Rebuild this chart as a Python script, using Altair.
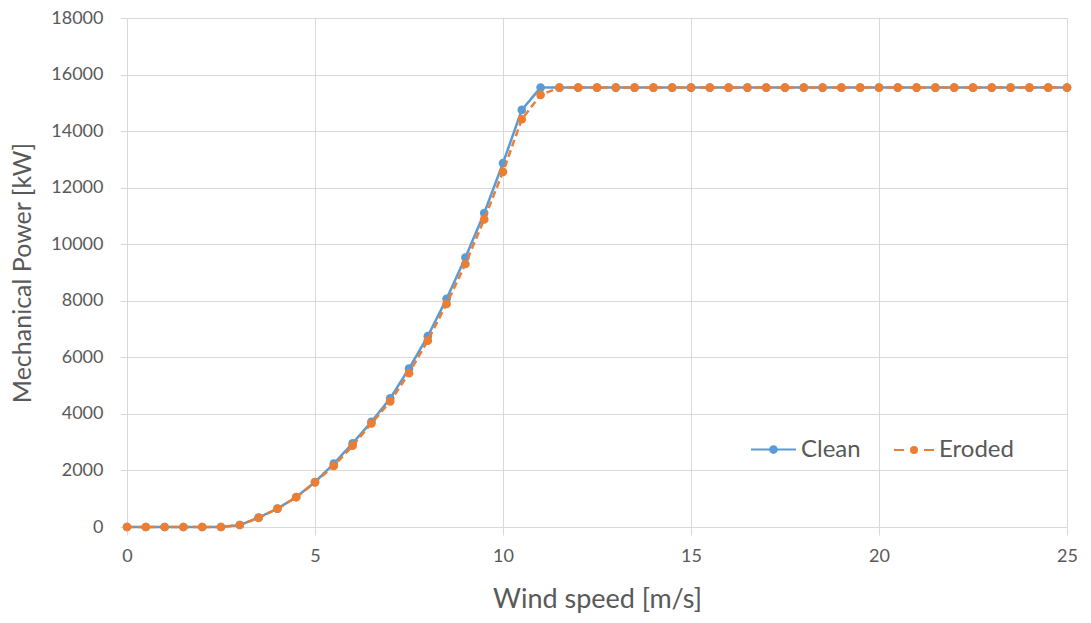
import altair as alt
import pandas as pd

wind = [i * 0.5 for i in range(51)]
clean_head = [0, 0, 0, 0, 0, 0, 70, 330, 650, 1060, 1590, 2240, 2960, 3720,
              4550, 5600, 6750, 8070, 9530, 11100, 12870, 14750, 15540]
eroded_head = [0, 0, 0, 0, 0, 0, 70, 325, 645, 1050, 1580, 2160, 2875, 3660,
               4440, 5440, 6590, 7890, 9300, 10880, 12560, 14420, 15280]
rated = 15540
clean = clean_head + [rated] * (51 - len(clean_head))
eroded = eroded_head + [rated] * (51 - len(eroded_head))
series = ["Clean", "Eroded"]
colors = ["#5B9BD5", "#ED7D31"]

FONT = "Lato"
GRAY = "#595959"
GRID = "#d9d9d9"

DOT = ("M0.15,0A0.15,0.15 0 1,1 -0.15,0A0.15,0.15 0 1,1 0.15,0"
       "M0.09,0A0.09,0.09 0 1,1 -0.09,0A0.09,0.09 0 1,1 0.09,0"
       "M0.03,0A0.03,0.03 0 1,1 -0.03,0A0.03,0.03 0 1,1 0.03,0")
SYM_SOLID = "M-1,0H1" + DOT
SYM_DASH = "M-1,0H-0.5M0.5,0H1" + DOT

x = alt.X("wind:Q", scale=alt.Scale(domain=[0, 25], nice=False),
          axis=alt.Axis(values=[0, 5, 10, 15, 20, 25], title="Wind speed [m/s]",
                        format="d", labelFlush=False,
                        titleFontSize=27, titleFontWeight="normal", titleColor=GRAY,
                        titlePadding=21, labelFontSize=18, labelColor=GRAY,
                        labelPadding=12, tickSize=8, tickColor=GRID,
                        domainColor=GRID, gridColor=GRID))
y = alt.Y("power:Q", scale=alt.Scale(domain=[0, 18000], nice=False),
          axis=alt.Axis(values=list(range(0, 18001, 2000)), title="Mechanical Power [kW]",
                        format="d", labelFlush=False,
                        titleFontSize=25, titleFontWeight="normal", titleColor=GRAY,
                        titlePadding=15, labelFontSize=18, labelColor=GRAY,
                        labelPadding=17, tickSize=7, tickColor=GRID,
                        domainColor=GRID, gridColor=GRID))


def series_layer(name, values, col, dash, sym, lx, ly, size):
    d = pd.DataFrame({"wind": wind, "power": values, "series": name})
    leg = alt.Legend(title=None, orient="none", direction="horizontal",
                     legendX=lx, legendY=ly, labelFontSize=24, labelColor=GRAY,
                     labelFont=FONT, symbolType=sym, symbolSize=size,
                     symbolStrokeWidth=2, labelOffset=4)
    c = alt.Color("series:N", scale=alt.Scale(domain=[name], range=[col]), legend=leg)
    base = alt.Chart(d)
    line = base.mark_line(strokeWidth=2.5, strokeDash=dash).encode(
        x=x, y=y, color=c, order=alt.Order("wind:Q"))
    pts = base.mark_circle(size=75, opacity=1).encode(
        x="wind:Q", y="power:Q", color=c)
    return alt.layer(line, pts)


clean_layer = series_layer(series[0], clean, colors[0], [1, 0], SYM_SOLID, 623, 408, 2025)
eroded_layer = series_layer(series[1], eroded, colors[1], [7, 4], SYM_DASH, 766, 411, 1600)

chart = alt.layer(clean_layer, eroded_layer).resolve_scale(color="independent").properties(
    width=940, height=509,
    autosize=alt.AutoSizeParams(type="none"),
    padding={"left": 119, "top": 10, "right": 16, "bottom": 90},
).configure(font=FONT).configure_view(stroke=None)

chart.save("out.html", embed_options={"renderer": "svg", "actions": False})
